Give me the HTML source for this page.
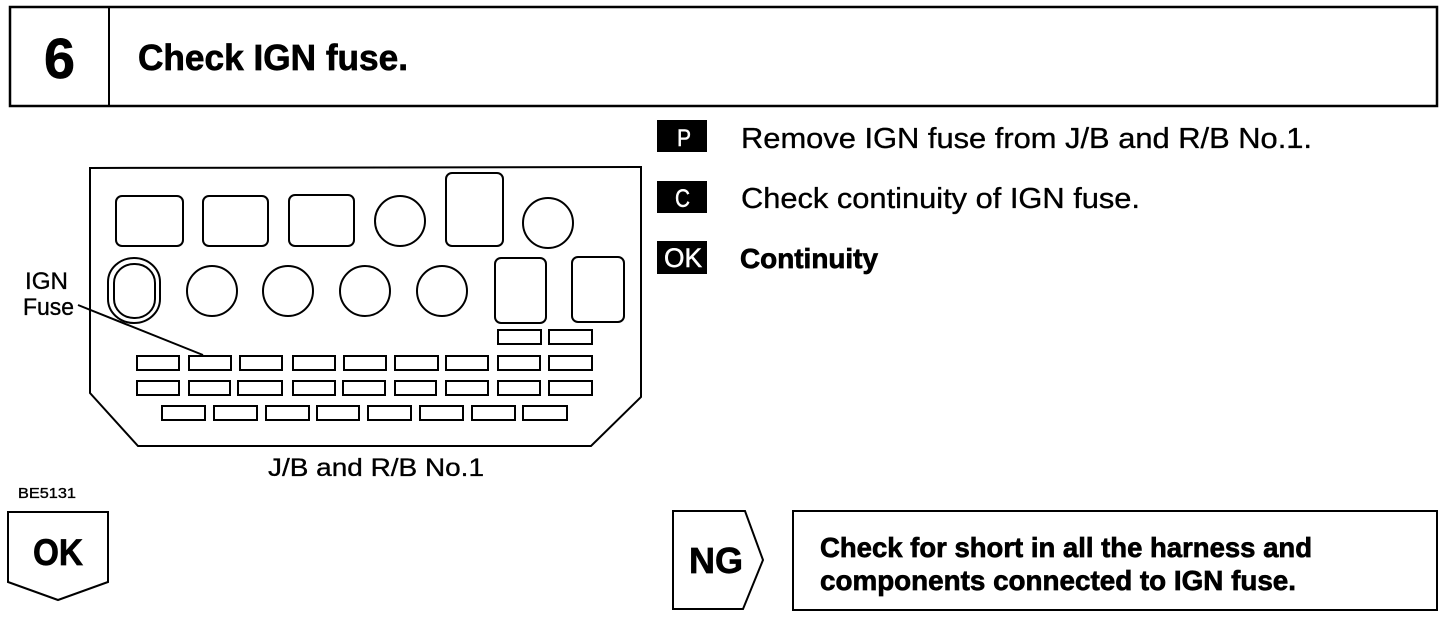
<!DOCTYPE html>
<html>
<head>
<meta charset="utf-8">
<style>
html,body{margin:0;padding:0;background:#fff;width:1456px;height:618px;overflow:hidden}
svg{display:block}
text{font-family:"Liberation Sans",Arial,sans-serif;fill:#000;stroke:#000;stroke-width:.35}
.b{font-weight:bold;stroke-width:.7}
.s rect,.s circle,.s polygon,.s line,.s path{fill:none;stroke:#000;stroke-width:2}
text.w{fill:#fff;stroke:#fff;stroke-width:.5}
</style>
</head>
<body>
<svg width="1456" height="618" viewBox="0 0 1456 618" xmlns="http://www.w3.org/2000/svg">
<g class="s">
  <!-- header -->
  <rect x="10" y="7" width="1427" height="99" style="stroke-width:2.5"/>
  <line x1="109" y1="7" x2="109" y2="106"/>
  <!-- outline -->
  <polygon points="90,168 641,167 641,397 591,446 138,446 90,393"/>
  <!-- row 1 -->
  <rect x="116" y="196" width="67" height="50" rx="6"/>
  <rect x="203" y="196" width="65" height="50" rx="6"/>
  <rect x="289" y="195" width="65" height="51" rx="6"/>
  <circle cx="400" cy="221" r="25"/>
  <rect x="446" y="173" width="57" height="73" rx="6"/>
  <circle cx="548" cy="223" r="25"/>
  <!-- row 2 -->
  <rect x="108" y="258" width="52" height="65" rx="26" ry="24"/>
  <rect x="114" y="264" width="41" height="54" rx="20" ry="19"/>
  <circle cx="212" cy="291" r="25"/>
  <circle cx="288" cy="291" r="25"/>
  <circle cx="365" cy="291" r="25"/>
  <circle cx="442" cy="291" r="25"/>
  <rect x="495" y="258" width="51" height="65" rx="6"/>
  <rect x="572" y="257" width="52" height="65" rx="6"/>
  <!-- small -->
  <rect x="498" y="330" width="43" height="14"/>
  <rect x="549" y="330" width="43" height="14"/>
  <!-- fuse row A -->
  <rect x="137" y="356" width="42" height="14"/>
  <rect x="189" y="356" width="42" height="14"/>
  <rect x="240" y="356" width="42" height="14"/>
  <rect x="293" y="356" width="42" height="14"/>
  <rect x="344" y="356" width="42" height="14"/>
  <rect x="395" y="356" width="43" height="14"/>
  <rect x="446" y="356" width="42" height="14"/>
  <rect x="498" y="356" width="42" height="14"/>
  <rect x="549" y="356" width="43" height="14"/>
  <!-- fuse row B -->
  <rect x="137" y="381" width="42" height="14"/>
  <rect x="189" y="381" width="41" height="14"/>
  <rect x="238" y="381" width="44" height="14"/>
  <rect x="293" y="381" width="42" height="14"/>
  <rect x="343" y="381" width="42" height="14"/>
  <rect x="395" y="381" width="41" height="14"/>
  <rect x="446" y="381" width="42" height="14"/>
  <rect x="498" y="381" width="42" height="14"/>
  <rect x="549" y="381" width="43" height="14"/>
  <!-- fuse row C -->
  <rect x="162" y="406" width="43" height="14"/>
  <rect x="214" y="406" width="43" height="14"/>
  <rect x="266" y="406" width="43" height="14"/>
  <rect x="317" y="406" width="42" height="14"/>
  <rect x="368" y="406" width="43" height="14"/>
  <rect x="420" y="406" width="43" height="14"/>
  <rect x="472" y="406" width="43" height="14"/>
  <rect x="523" y="406" width="44" height="14"/>
  <!-- leader -->
  <line x1="78" y1="305" x2="203" y2="355"/>
  <!-- OK / NG -->
  <polygon points="8,512 108,512 108,582 58,600 8,582"/>
  <polygon points="673,511 745,511 763,560 743,609 673,609"/>
  <rect x="793" y="511" width="644" height="99"/>
</g>
<!-- badges -->
<rect x="657" y="120" width="50" height="32" fill="#000"/>
<rect x="657" y="181" width="50" height="32" fill="#000"/>
<rect x="657" y="241" width="50" height="33" fill="#000"/>
<text class="w" x="677" y="146" font-size="24" textLength="14" lengthAdjust="spacingAndGlyphs">P</text>
<text class="w" x="675" y="207" font-size="25" textLength="15" lengthAdjust="spacingAndGlyphs">C</text>
<text class="w" x="664" y="267" font-size="27" textLength="38" lengthAdjust="spacingAndGlyphs">OK</text>
<!-- text -->
<text class="b" x="44" y="78" font-size="57" textLength="31" lengthAdjust="spacingAndGlyphs">6</text>
<text class="b" x="138" y="70" font-size="36" textLength="270" lengthAdjust="spacingAndGlyphs">Check IGN fuse.</text>
<text x="741" y="148" font-size="29" textLength="571" lengthAdjust="spacingAndGlyphs">Remove IGN fuse from J/B and R/B No.1.</text>
<text x="741" y="208" font-size="29" textLength="399" lengthAdjust="spacingAndGlyphs">Check continuity of IGN fuse.</text>
<text class="b" x="740" y="268" font-size="28" textLength="138" lengthAdjust="spacingAndGlyphs">Continuity</text>
<text x="25" y="289" font-size="24" textLength="43" lengthAdjust="spacingAndGlyphs">IGN</text>
<text x="23" y="315" font-size="24" textLength="51" lengthAdjust="spacingAndGlyphs">Fuse</text>
<text x="268" y="476" font-size="25" textLength="216" lengthAdjust="spacingAndGlyphs">J/B and R/B No.1</text>
<text x="18" y="498" font-size="15" textLength="58" lengthAdjust="spacingAndGlyphs">BE5131</text>
<text class="b" x="33" y="565" font-size="37" textLength="50" lengthAdjust="spacingAndGlyphs">OK</text>
<text class="b" x="689" y="573" font-size="36" textLength="54" lengthAdjust="spacingAndGlyphs">NG</text>
<text class="b" x="820" y="557" font-size="28" textLength="492" lengthAdjust="spacingAndGlyphs">Check for short in all the harness and</text>
<text class="b" x="820" y="590" font-size="28" textLength="476" lengthAdjust="spacingAndGlyphs">components connected to IGN fuse.</text>
</svg>
</body>
</html>
